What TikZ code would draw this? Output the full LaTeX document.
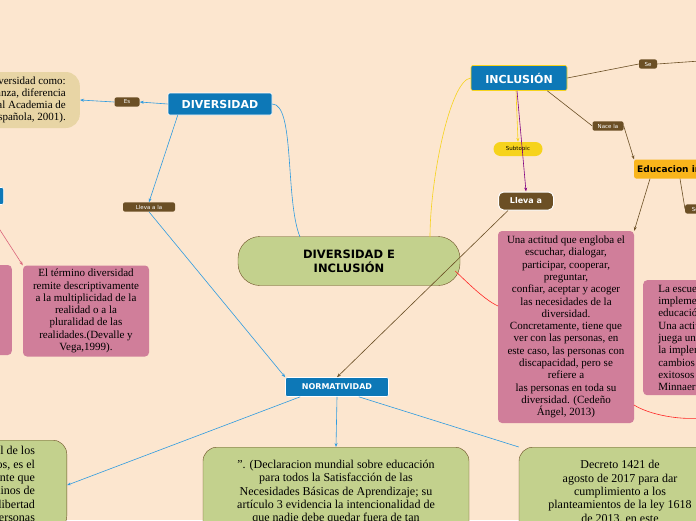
\documentclass[tikz,border=0pt]{standalone}
\usepackage{fontspec}
\setmainfont{Liberation Serif}
\newfontfamily\hd{DejaVu Sans}
\usetikzlibrary{arrows.meta}
\definecolor{bg}{HTML}{FCE6CF}
\definecolor{bl}{HTML}{0D78B7}
\definecolor{br}{HTML}{6B4F25}
\definecolor{gr}{HTML}{C3D18D}
\definecolor{pk}{HTML}{D07E9A}
\definecolor{tn}{HTML}{E8D5A5}
\definecolor{ye}{HTML}{F6D31C}
\definecolor{og}{HTML}{F9B51B}
\definecolor{ln}{HTML}{2E9BE0}
\tikzset{
 x=1pt,y=-1pt,
 lab/.style={fill=br,text=white,font=\hd\fontsize{5.5}{6}\selectfont,rounded corners=2pt,inner sep=2.5pt},
 head/.style={fill=bl,text=white,font=\hd\bfseries\fontsize{11}{13}\selectfont,rounded corners=2pt,inner sep=4pt,draw=white,line width=0.6pt},
 pinkbox/.style={fill=pk,rounded corners=4pt,align=center,font=\fontsize{11}{12.3}\selectfont,inner sep=2pt},
 greenbox/.style={fill=gr,draw=br,rounded corners=14pt,align=center,font=\fontsize{12}{13.4}\selectfont,inner sep=5pt},
 ar/.style={-{Stealth[length=4pt]},line width=0.6pt},
}
\begin{document}
\begin{tikzpicture}
\useasboundingbox (0,0) rectangle (696,520);
\clip (0,0) rectangle (696,520);
\fill[bg] (0,0) rectangle (696,520);
% nodes
\node[greenbox,rounded corners=22pt,minimum width=222pt,minimum height=49pt,font=\hd\bfseries\fontsize{11.5}{14}\selectfont] (c) at (349,261) {DIVERSIDAD E\\INCLUSIÓN};
\node[head,minimum width=104pt,minimum height=22pt] (div) at (220,104) {DIVERSIDAD};
\node[head,draw=ye,minimum width=96pt,minimum height=25pt] (inc) at (519,78) {INCLUSIÓN};
\node[head,font=\hd\bfseries\fontsize{8}{9}\selectfont,minimum width=103pt,minimum height=19pt,inner sep=2pt] (nor) at (337,387) {NORMATIVIDAD};
\node[lab,minimum width=25pt] (es) at (127,102) {Es};
\node[fill=tn,rounded corners=14pt,align=right,font=\fontsize{11}{12}\selectfont,minimum width=150pt,minimum height=56pt,anchor=east,inner xsep=14pt] (tan) at (80,100) {Define la diversidad como:\\variedad, desemejanza, diferencia\\(Real Academia de\\la Lengua Española, 2001).};
\node[lab,minimum width=52pt] (ll1) at (149,207) {Lleva a la};
\node[head,minimum width=30pt,minimum height=17pt,anchor=east] (bl2) at (4,196) {X};
\node[pinkbox,minimum width=126pt,minimum height=91pt] (term) at (86,311) {El término diversidad\\remite descriptivamente\\a la multiplicidad de la\\realidad o a la\\pluralidad de las\\realidades.(Devalle y\\Vega,1999).};
\node[pinkbox,minimum width=110pt,minimum height=90pt,anchor=east,align=right,inner xsep=4pt] (lp) at (12,310) {a\\ \\ \\ \\9).};
\node[fill=ye,rounded corners=7pt,font=\hd\fontsize{5.5}{6}\selectfont,minimum width=49pt,minimum height=14pt,inner sep=1pt] (sub) at (518,149) {Subtopic};
\node[fill=br,draw=white,line width=1pt,text=white,rounded corners=5pt,font=\hd\bfseries\fontsize{8}{9}\selectfont,minimum width=55pt,minimum height=18pt,inner sep=1pt] (ll2) at (526,201) {Lleva a};
\node[fill=og,rounded corners=2pt,font=\hd\bfseries\fontsize{9}{10}\selectfont,minimum height=19pt,inner sep=3pt,anchor=west] (edu) at (634,169) {Educacion inclusiva};
\node[lab,minimum width=31pt] (nace) at (608,126) {Nace la};
\node[lab,minimum width=18pt] (se) at (648,64) {Se};
\node[lab,minimum width=20pt,anchor=west] (sc) at (685,209) {So};
\node[pinkbox,minimum width=136pt,minimum height=192pt] (una) at (566,327) {Una actitud que engloba el\\escuchar, dialogar,\\participar, cooperar,\\preguntar,\\confiar, aceptar y acoger\\las necesidades de la\\diversidad.\\Concretamente, tiene que\\ver con las personas, en\\este caso, las personas con\\discapacidad, pero se\\refiere a\\las personas en toda su\\diversidad. (Cedeño\\Ángel, 2013)};
\node[pinkbox,minimum width=120pt,minimum height=115pt,anchor=north west,align=left,inner xsep=3pt] (rp) at (643,280) {La escuela debe\\implementar la\\educación inclusiva.\\Una actitud que\\juega un rol en\\la implementación\\cambios en\\exitosos\\Minnaert};
\coordinate (sec) at (700,61);
\node[greenbox,minimum width=200pt,minimum height=90pt,anchor=north east,align=right,inner xsep=9pt] (g1) at (67,440) {Declaración universal de los\\derechos humanos, es el\\antecedente que\\en términos de\\libertad\\de las personas};
\node[greenbox,minimum width=266pt,minimum height=90pt,anchor=north] (g2) at (336,447) {". (Declaracion mundial sobre educación\\para todos la Satisfacción de las\\Necesidades Básicas de Aprendizaje; su\\artículo 3 evidencia la intencionalidad de\\que nadie debe quedar fuera de tan};
\node[greenbox,minimum width=202pt,minimum height=90pt,anchor=north] (g3) at (620,447) {Decreto 1421 de\\agosto de 2017 para dar\\cumplimiento a los\\planteamientos de la ley 1618\\de 2013, en este};
% connectors
\draw[ln,line width=0.6pt] (div.east) .. controls (295,104) and (285,200) .. (300,237);
\draw[ye,line width=0.6pt] (inc.west) .. controls (450,80) and (430,180) .. (430,237);
\draw[ln,ar] (div.west) -- (es.east);
\draw[ln,ar] (es.west) -- (tan.east);
\draw[ln,ar] (div.south west) ++(10,0) -- (ll1.north);
\draw[ln,ar] (ll1.south) -- (nor.north west);
\draw[pk!80!red,ar] (bl2.south) ++(-5,0) -- (term.north west);
\draw[ye,ar] (inc.south) ++(-3,0) -- (sub.north);
\draw[violet,ar] (inc.south) ++(-2,0) -- (ll2.north);
\draw[br,ar] (ll2.south west) ++(10,0) -- (nor.north);
\draw[br,line width=0.6pt] (inc.south east) ++(-20,0) -- (nace.west);
\draw[br,ar] (nace.east) -- (edu.north west);
\draw[br,line width=0.6pt] (inc.east) -- (se.west);
\draw[br,line width=0.6pt] (se.east) -- (sec);
\draw[br,ar] (edu.south west) ++(16,0) -- (una.north east);
\draw[br,line width=0.6pt] (edu.south west) ++(46,0) -- (sc.west);
\draw[ln,ar] (nor.south west) ++(15,0) -- (g1.east);
\draw[ln,ar] (nor.south) -- (g2.north);
\draw[ln,line width=0.6pt] (nor.south east) ++(-30,0) -- (g3.north west);
\draw[red!80!pink,line width=0.6pt] (c.east) ++(-5,10) .. controls (470,285) and (485,300) .. (498,306);
\draw[red!80!pink,line width=0.6pt] (634,405) .. controls (650,415) and (680,420) .. (700,418);
\end{tikzpicture}
\end{document}
